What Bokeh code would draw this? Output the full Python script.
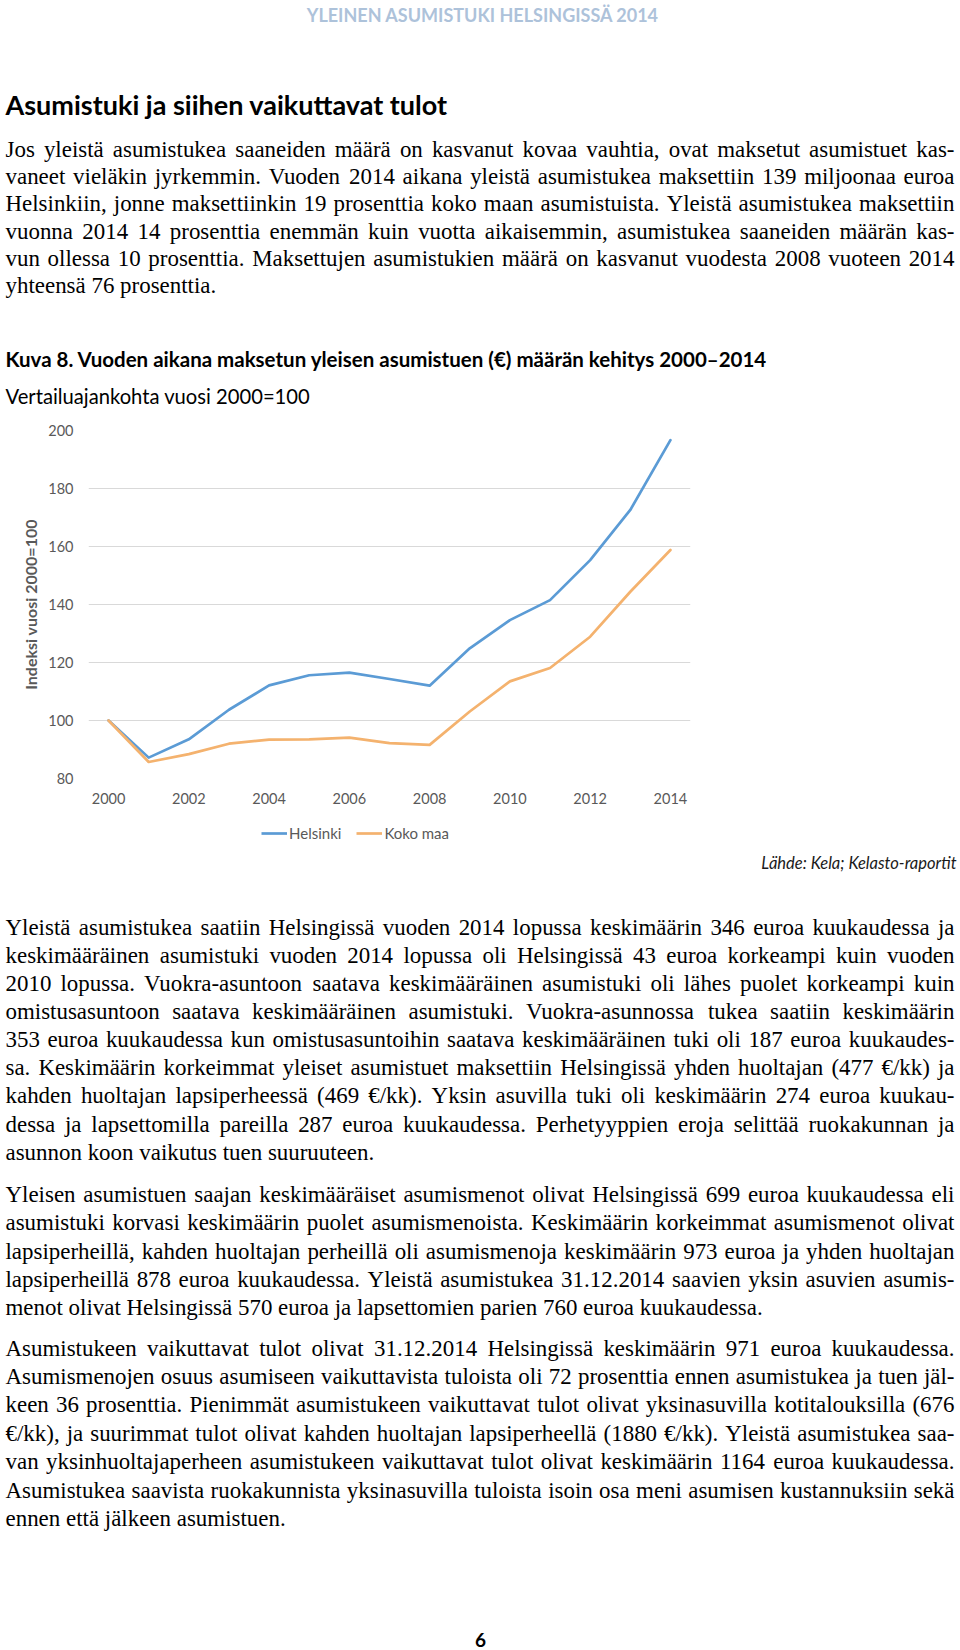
from bokeh.plotting import figure
from bokeh.models import Range1d, ColumnDataSource, Legend, LegendItem, FixedTicker
from bokeh.embed import file_html
from bokeh.resources import INLINE
from bokeh.core.properties import value

# ---------------- chart data ----------------
years = list(range(2000, 2015))
helsinki = [100, 87.2, 93.5, 103.7, 112.1, 115.6, 116.5, 114.3, 112.0, 124.9, 134.6, 141.5, 155.3, 172.6, 196.7]
koko_maa = [100, 85.7, 88.4, 92.0, 93.4, 93.5, 94.1, 92.2, 91.6, 103.1, 113.5, 118.1, 128.9, 144.4, 158.8]
y_ticks = [80, 100, 120, 140, 160, 180, 200]
x_ticks = [2000, 2002, 2004, 2006, 2008, 2010, 2012, 2014]
series_names = ["Helsinki", "Koko maa"]
series_colors = ["#5b9bd5", "#f4b26e"]

# ---------------- page texts ----------------
header = "YLEINEN ASUMISTUKI HELSINGISSÄ 2014"
title = "Asumistuki ja siihen vaikuttavat tulot"
chart_title = "Kuva 8. Vuoden aikana maksetun yleisen asumistuen (€) määrän kehitys 2000–2014"
chart_subtitle = "Vertailuajankohta vuosi 2000=100"
y_label = "Indeksi vuosi 2000=100"
source_note = "Lähde: Kela; Kelasto-raportit"
page_no = "6"

par1 = [
    "Jos yleistä asumistukea saaneiden määrä on kasvanut kovaa vauhtia, ovat maksetut asumistuet kas-",
    "vaneet vieläkin jyrkemmin. Vuoden 2014 aikana yleistä asumistukea maksettiin 139 miljoonaa euroa",
    "Helsinkiin, jonne maksettiinkin 19 prosenttia koko maan asumistuista. Yleistä asumistukea maksettiin",
    "vuonna 2014 14 prosenttia enemmän kuin vuotta aikaisemmin, asumistukea saaneiden määrän kas-",
    "vun ollessa 10 prosenttia. Maksettujen asumistukien määrä on kasvanut vuodesta 2008 vuoteen 2014",
    "yhteensä 76 prosenttia.",
]
par2 = [
    "Yleistä asumistukea saatiin Helsingissä vuoden 2014 lopussa keskimäärin 346 euroa kuukaudessa ja",
    "keskimääräinen asumistuki vuoden 2014 lopussa oli Helsingissä 43 euroa korkeampi kuin vuoden",
    "2010 lopussa. Vuokra-asuntoon saatava keskimääräinen asumistuki oli lähes puolet korkeampi kuin",
    "omistusasuntoon saatava keskimääräinen asumistuki. Vuokra-asunnossa tukea saatiin keskimäärin",
    "353 euroa kuukaudessa kun omistusasuntoihin saatava keskimääräinen tuki oli 187 euroa kuukaudes-",
    "sa. Keskimäärin korkeimmat yleiset asumistuet maksettiin Helsingissä yhden huoltajan (477 €/kk) ja",
    "kahden huoltajan lapsiperheessä (469 €/kk). Yksin asuvilla tuki oli keskimäärin 274 euroa kuukau-",
    "dessa ja lapsettomilla pareilla 287 euroa kuukaudessa. Perhetyyppien eroja selittää ruokakunnan ja",
    "asunnon koon vaikutus tuen suuruuteen.",
]
par3 = [
    "Yleisen asumistuen saajan keskimääräiset asumismenot olivat Helsingissä 699 euroa kuukaudessa eli",
    "asumistuki korvasi keskimäärin puolet asumismenoista. Keskimäärin korkeimmat asumismenot olivat",
    "lapsiperheillä, kahden huoltajan perheillä oli asumismenoja keskimäärin 973 euroa ja yhden huoltajan",
    "lapsiperheillä 878 euroa kuukaudessa. Yleistä asumistukea 31.12.2014 saavien yksin asuvien asumis-",
    "menot olivat Helsingissä 570 euroa ja lapsettomien parien 760 euroa kuukaudessa.",
]
par4 = [
    "Asumistukeen vaikuttavat tulot olivat 31.12.2014 Helsingissä keskimäärin 971 euroa kuukaudessa.",
    "Asumismenojen osuus asumiseen vaikuttavista tuloista oli 72 prosenttia ennen asumistukea ja tuen jäl-",
    "keen 36 prosenttia.  Pienimmät asumistukeen vaikuttavat tulot olivat yksinasuvilla kotitalouksilla (676",
    "€/kk), ja suurimmat tulot olivat kahden huoltajan lapsiperheellä (1880 €/kk). Yleistä asumistukea saa-",
    "van yksinhuoltajaperheen asumistukeen vaikuttavat tulot olivat keskimäärin 1164 euroa kuukaudessa.",
    "Asumistukea saavista ruokakunnista yksinasuvilla tuloista isoin osa meni asumisen kustannuksiin sekä",
    "ennen että jälkeen asumistuen.",
]

# ---------------- text layout helpers (Times / Liberation Serif metrics) ----------------
TW = {' ': 250, '!': 333, '(': 333, ')': 333, ',': 250, '-': 333, '.': 250, '/': 278,
      ':': 278, ';': 278, '=': 564, '€': 500, '–': 500}
for d in "0123456789":
    TW[d] = 500
TW.update(dict(A=722, B=667, C=667, D=722, E=611, F=556, G=722, H=722, I=333, J=389, K=722,
               L=611, M=889, N=722, O=722, P=556, Q=722, R=667, S=556, T=611, U=722, V=722,
               W=944, X=722, Y=722, Z=611))
TW.update(dict(a=444, b=500, c=444, d=500, e=444, f=333, g=500, h=500, i=278, j=278, k=500,
               l=278, m=778, n=500, o=500, p=500, q=500, r=333, s=389, t=278, u=500, v=500,
               w=722, x=500, y=500, z=444))
TW.update({'ä': 444, 'ö': 500, 'å': 444, 'Ä': 722, 'Ö': 722})


def text_em(s):
    return sum(TW.get(c, 500) for c in s) / 1000.0


PAGE_W = 960
TX0 = 5          # left edge of the text column
TXW = 951        # width of the justified text column
all_pars = [par1, par2, par3, par4]
nat = []
for par in all_pars:
    for ln in par[:-1]:
        nat.append(text_em(" ".join(ln.split())))
nat.sort()
median_em = nat[len(nat) // 2]
FS = max(18.0, min(23.0, 0.975 * TXW / median_em))


def layout_par(lines, y0, dy, store):
    for i, line in enumerate(lines):
        words = line.split()
        last = i == len(lines) - 1
        y = y0 + i * dy
        fs = FS
        ems = [text_em(w) for w in words]
        tot = sum(ems)
        if not last and len(words) > 1:
            natural = tot + 0.17 * (len(words) - 1)
            if natural * fs > TXW - 2:
                fs = (TXW - 2) / natural
            gap = (TXW - 2 - tot * fs) / (len(words) - 1)
        else:
            gap = 0.25 * fs
        x = TX0
        for w, e in zip(words, ems):
            store["x"].append(x)
            store["y"].append(y)
            store["t"].append(w)
            store["fs"].append(f"{fs:.2f}px")
            x += e * fs + gap


def text_fig(height):
    f = figure(width=PAGE_W, height=height, x_range=Range1d(0, PAGE_W), y_range=Range1d(height, 0),
               output_backend="svg", toolbar_location=None, x_axis_type=None, y_axis_type=None,
               min_border=0, outline_line_color=None)
    f.background_fill_color = "white"
    f.border_fill_color = "white"
    return f


SANS = "Lato"
SERIF = "Liberation Serif"

# ---------------- top text figure (page y 0..415) ----------------
TOP_H = 415
top = text_fig(TOP_H)
top.text(x=[482.5], y=[14.5], text=[header], text_font=value(SANS), text_font_style="bold",
         text_font_size="18px", text_color="#adc2da", text_align="center", text_baseline="middle")
top.text(x=[TX0], y=[104], text=[title], text_font=value(SANS), text_font_style="bold",
         text_font_size="27px", text_color="#000000", text_align="left", text_baseline="middle")
s1 = {"x": [], "y": [], "t": [], "fs": []}
layout_par(par1, 148.5, 27.36, s1)
top.text(x="x", y="y", text="t", text_font_size="fs", source=ColumnDataSource(s1),
         text_font=value(SERIF), text_color="#000000", text_align="left", text_baseline="middle")
top.text(x=[TX0], y=[358.5], text=[chart_title], text_font=value(SANS), text_font_style="bold",
         text_font_size="20.5px", text_color="#000000", text_align="left", text_baseline="middle")
top.text(x=[TX0], y=[395.5], text=[chart_subtitle], text_font=value(SANS),
         text_font_size="20.2px", text_color="#000000", text_align="left", text_baseline="middle")

# ---------------- chart figure (page y 415..815) ----------------
CH_H = 400
p = figure(width=PAGE_W, height=CH_H, x_range=Range1d(1999.5, 2014.5), y_range=Range1d(80, 200),
           output_backend="svg", toolbar_location=None,
           min_border_left=88, min_border_right=270, min_border_top=15, min_border_bottom=37,
           outline_line_color=None)
p.background_fill_color = "white"
p.border_fill_color = "white"
p.xgrid.visible = False
p.ygrid.grid_line_color = "#d9d9d9"
p.ygrid.grid_line_width = 1
p.ygrid.ticker = FixedTicker(ticks=y_ticks)
p.yaxis.ticker = FixedTicker(ticks=y_ticks)
p.xaxis.ticker = FixedTicker(ticks=x_ticks)
for ax in (p.xaxis, p.yaxis):
    ax.axis_line_color = None
    ax.major_tick_line_color = None
    ax.minor_tick_line_color = None
    ax.major_tick_out = 0
    ax.major_tick_in = 0
    ax.minor_tick_out = 0
    ax.major_label_text_font = SANS
    ax.major_label_text_font_size = "14.5px"
    ax.major_label_text_color = "#595959"
p.yaxis.major_label_standoff = 15
p.xaxis.major_label_standoff = 14
p.yaxis.axis_label = y_label
p.yaxis.axis_label_text_font = SANS
p.yaxis.axis_label_text_font_style = "bold"
p.yaxis.axis_label_text_font_size = "16px"
p.yaxis.axis_label_text_color = "#595959"
p.yaxis.axis_label_standoff = 5

p.line(years, helsinki, line_color=series_colors[0], line_width=2.7, line_join="round", line_cap="round")
p.line(years, koko_maa, line_color=series_colors[1], line_width=2.7, line_join="round", line_cap="round")

# ---------------- bottom text figure (page y 815..1650) ----------------
BOT_Y0 = 815
BOT_H = 835
bot = text_fig(BOT_H)
# legend proxies: same series, but lying outside this text panel's visible x-range (not drawn)
k1 = bot.line(years, helsinki, line_color=series_colors[0], line_width=2.7)
k2 = bot.line(years, koko_maa, line_color=series_colors[1], line_width=2.7)
legend = Legend(items=[LegendItem(label=series_names[0], renderers=[k1]),
                       LegendItem(label=series_names[1], renderers=[k2])],
                location=(261, BOT_H - (832.6 - BOT_Y0) - 10), orientation="horizontal",
                glyph_width=26, glyph_height=20, label_standoff=2, spacing=15, padding=0, margin=0,
                border_line_color=None, background_fill_alpha=0, label_text_font=SANS,
                label_text_font_size="15px", label_text_color="#595959", label_height=20)
bot.add_layout(legend)
bot.text(x=[956], y=[862 - BOT_Y0], text=[source_note], text_font=value(SANS), text_font_style="italic",
         text_font_size="16.5px", text_color="#1a1a1a", text_align="right", text_baseline="middle")
s2 = {"x": [], "y": [], "t": [], "fs": []}
layout_par(par2, 926.5 - BOT_Y0, 28.15, s2)
layout_par(par3, 1193.8 - BOT_Y0, 28.42, s2)
layout_par(par4, 1347.5 - BOT_Y0, 28.42, s2)
bot.text(x="x", y="y", text="t", text_font_size="fs", source=ColumnDataSource(s2),
         text_font=value(SERIF), text_color="#000000", text_align="left", text_baseline="middle")
bot.text(x=[480], y=[1639 - BOT_Y0], text=[page_no], text_font=value(SANS), text_font_style="bold",
         text_font_size="19px", text_color="#000000", text_align="center", text_baseline="middle")

open("out.html", "w").write(file_html([top, p, bot], INLINE))
